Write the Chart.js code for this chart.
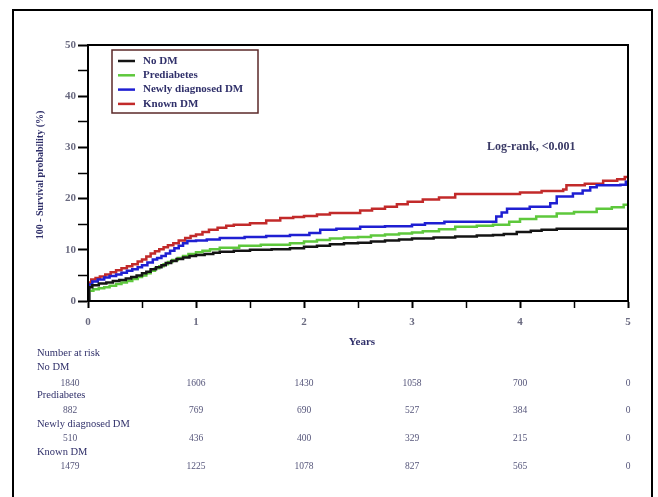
<!DOCTYPE html>
<html>
<head>
<meta charset="utf-8">
<title>100 - Survival probability by diabetes status</title>
<script src="https://cdn.jsdelivr.net/npm/chart.js@4.4.0/dist/chart.umd.min.js"></script>
<style>
  html, body { margin: 0; padding: 0; background: #fff; }
  #wrap { width: 658px; height: 497px; }
</style>
</head>
<body>
<div id="wrap"><canvas id="km" width="658" height="497"></canvas></div>
<script>
// Series names and colours
const seriesNames = ['No DM', 'Prediabetes', 'Newly diagnosed DM', 'Known DM'];
const seriesColors = ['#141414', '#5ec83c', '#1f1fd2', '#c22a2a'];

// Step curves: time in years and 100 - survival (%)
const noDmYears = [0, 0.01, 0.04, 0.1, 0.17, 0.23, 0.29, 0.35, 0.4, 0.45, 0.5, 0.54, 0.58, 0.63, 0.68, 0.72, 0.77, 0.82, 0.88, 0.94, 1.0, 1.08, 1.16, 1.22, 1.35, 1.5, 1.7, 1.87, 2.0, 2.12, 2.24, 2.37, 2.5, 2.62, 2.75, 2.88, 3.0, 3.2, 3.4, 3.6, 3.75, 3.85, 3.97, 4.1, 4.2, 4.34, 5.0];
const noDmValues = [0, 2.7, 3.1, 3.4, 3.6, 3.9, 4.1, 4.4, 4.7, 5.0, 5.4, 5.7, 6.2, 6.6, 7.0, 7.4, 7.8, 8.2, 8.5, 8.8, 9.0, 9.2, 9.4, 9.6, 9.8, 10.0, 10.1, 10.3, 10.6, 10.8, 11.1, 11.3, 11.4, 11.6, 11.8, 12.0, 12.2, 12.4, 12.6, 12.8, 12.9, 13.1, 13.5, 13.7, 13.9, 14.1, 14.1];

const prediabetesYears = [0, 0.01, 0.05, 0.1, 0.15, 0.2, 0.26, 0.31, 0.36, 0.41, 0.46, 0.5, 0.54, 0.58, 0.62, 0.66, 0.7, 0.74, 0.78, 0.83, 0.88, 0.93, 1.0, 1.06, 1.13, 1.22, 1.4, 1.6, 1.87, 2.0, 2.12, 2.24, 2.37, 2.5, 2.62, 2.75, 2.88, 3.0, 3.1, 3.25, 3.4, 3.6, 3.75, 3.9, 4.0, 4.15, 4.34, 4.5, 4.71, 4.85, 4.96, 5.0];
const prediabetesValues = [0, 2.0, 2.3, 2.5, 2.7, 3.0, 3.3, 3.6, 3.9, 4.3, 4.7, 5.0, 5.4, 5.9, 6.4, 6.8, 7.2, 7.6, 8.0, 8.4, 8.8, 9.2, 9.5, 9.8, 10.1, 10.4, 10.8, 11.0, 11.3, 11.6, 11.9, 12.2, 12.4, 12.5, 12.8, 13.0, 13.2, 13.4, 13.6, 14.0, 14.5, 14.7, 14.9, 15.5, 16.0, 16.5, 17.1, 17.4, 18.0, 18.3, 18.8, 19.0];

const newDmYears = [0, 0.01, 0.04, 0.09, 0.15, 0.2, 0.26, 0.31, 0.36, 0.41, 0.46, 0.5, 0.55, 0.6, 0.64, 0.68, 0.72, 0.76, 0.8, 0.84, 0.88, 0.92, 1.0, 1.1, 1.22, 1.45, 1.65, 1.87, 2.05, 2.15, 2.3, 2.52, 2.75, 3.0, 3.12, 3.3, 3.5, 3.72, 3.78, 3.83, 3.88, 4.09, 4.28, 4.34, 4.49, 4.58, 4.65, 4.71, 4.93, 4.98, 5.0];
const newDmValues = [0, 3.2, 3.8, 4.2, 4.6, 4.9, 5.2, 5.5, 5.9, 6.2, 6.6, 7.0, 7.5, 8.1, 8.4, 8.8, 9.3, 9.8, 10.3, 10.8, 11.3, 11.7, 11.8, 12.0, 12.3, 12.5, 12.7, 12.9, 13.3, 13.9, 14.1, 14.5, 14.6, 14.9, 15.2, 15.5, 15.5, 15.5, 16.5, 17.3, 18.0, 18.4, 19.1, 20.4, 21.0, 21.6, 22.2, 22.6, 22.7, 23.3, 23.6];

const knownDmYears = [0, 0.01, 0.03, 0.07, 0.11, 0.16, 0.21, 0.26, 0.31, 0.36, 0.41, 0.46, 0.5, 0.54, 0.58, 0.62, 0.66, 0.7, 0.74, 0.79, 0.84, 0.9, 0.95, 1.0, 1.06, 1.12, 1.2, 1.28, 1.35, 1.5, 1.65, 1.78, 1.9, 2.0, 2.12, 2.24, 2.4, 2.52, 2.63, 2.75, 2.86, 2.96, 3.1, 3.25, 3.4, 3.81, 4.0, 4.2, 4.4, 4.43, 4.6, 4.77, 4.9, 4.97, 5.0];
const knownDmValues = [0, 3.6, 4.2, 4.5, 4.8, 5.2, 5.6, 6.0, 6.4, 6.8, 7.2, 7.7, 8.1, 8.7, 9.3, 9.7, 10.1, 10.5, 10.9, 11.3, 11.8, 12.3, 12.7, 13.0, 13.5, 13.9, 14.3, 14.7, 14.9, 15.2, 15.7, 16.2, 16.4, 16.6, 16.9, 17.2, 17.2, 17.7, 18.0, 18.4, 18.9, 19.4, 19.8, 20.2, 20.9, 20.9, 21.2, 21.5, 21.8, 22.6, 22.9, 23.5, 23.8, 24.2, 24.2];

// Number at risk table
const riskYears = [0, 1, 2, 3, 4, 5];
const riskNoDm = [1840, 1606, 1430, 1058, 700, 0];
const riskPrediabetes = [882, 769, 690, 527, 384, 0];
const riskNewDm = [510, 436, 400, 329, 215, 0];
const riskKnownDm = [1479, 1225, 1078, 827, 565, 0];

// Axis settings
const xMin = 0, xMax = 5, xStep = 0.5;
const yMin = 0, yMax = 50, yStep = 5, yLabelEvery = 10;

const xTitle = 'Years';
const yTitle = '100 - Survival probability (%)';
const testNote = 'Log-rank, <0.001';
const riskTitle = 'Number at risk';

const SERIF = "'Liberation Serif', 'DejaVu Serif', serif";
const NAVY = '#30306a';

function toPoints(xs, ys) {
  return xs.map((x, i) => ({ x: x, y: ys[i] }));
}

const curveYears = [noDmYears, prediabetesYears, newDmYears, knownDmYears];
const curveValues = [noDmValues, prediabetesValues, newDmValues, knownDmValues];
const riskRows = [riskNoDm, riskPrediabetes, riskNewDm, riskKnownDm];

const datasets = seriesNames.map((name, i) => ({
  label: name,
  data: toPoints(curveYears[i], curveValues[i]),
  borderColor: seriesColors[i],
  backgroundColor: seriesColors[i],
  borderWidth: 2.5,
  pointRadius: 0,
  stepped: true,
  fill: false
}));

// Draws the outer frame, box, titles, legend, note and risk table
const figureExtras = {
  id: 'figureExtras',
  beforeDraw(chart) {
    const ctx = chart.ctx;
    ctx.save();
    ctx.fillStyle = '#fff';
    ctx.fillRect(0, 0, chart.width, chart.height);
    ctx.restore();
  },
  afterDraw(chart) {
    const ctx = chart.ctx;
    const area = chart.chartArea;
    const xs = chart.scales.x;
    ctx.save();

    // outer frame (bottom edge runs off the picture)
    ctx.strokeStyle = '#000';
    ctx.lineWidth = 2;
    ctx.strokeRect(13, 10, 639, 500);

    // plot box
    ctx.strokeRect(area.left, area.top, area.right - area.left, area.bottom - area.top);

    // y title
    ctx.fillStyle = NAVY;
    ctx.font = 'bold 10px ' + SERIF;
    ctx.textAlign = 'center';
    ctx.textBaseline = 'middle';
    ctx.save();
    ctx.translate(40, (area.top + area.bottom) / 2 + 2);
    ctx.rotate(-Math.PI / 2);
    ctx.fillText(yTitle, 0, 0);
    ctx.restore();

    // x title
    ctx.font = 'bold 11px ' + SERIF;
    ctx.fillText(xTitle, (area.left + area.right) / 2 + 4, 342);

    // legend
    const lx = area.left + 24, ly = area.top + 5;
    ctx.strokeStyle = '#5b2828';
    ctx.lineWidth = 1.5;
    ctx.strokeRect(lx, ly, 146, 63);
    ctx.textAlign = 'left';
    ctx.font = 'bold 11px ' + SERIF;
    seriesNames.forEach((name, i) => {
      const y = ly + 11 + i * 14.3;
      ctx.strokeStyle = seriesColors[i];
      ctx.lineWidth = 2.5;
      ctx.beginPath();
      ctx.moveTo(lx + 6, y);
      ctx.lineTo(lx + 23, y);
      ctx.stroke();
      ctx.fillStyle = NAVY;
      ctx.fillText(name, lx + 31, y);
    });

    // log-rank note
    ctx.font = 'bold 12px ' + SERIF;
    ctx.fillStyle = '#3a3a66';
    ctx.fillText(testNote, 487, 147);

    // number at risk
    ctx.font = '10.5px ' + SERIF;
    ctx.fillStyle = NAVY;
    ctx.fillText(riskTitle, 37, 353);
    riskRows.forEach((row, i) => {
      ctx.font = '10.5px ' + SERIF;
      ctx.fillStyle = NAVY;
      ctx.textAlign = 'left';
      ctx.fillText(seriesNames[i], 37, 367 + i * 28.4);
      ctx.font = '9.5px ' + SERIF;
      ctx.fillStyle = '#55557a';
      ctx.textAlign = 'center';
      row.forEach((n, j) => {
        const px = xs.getPixelForValue(riskYears[j]) - (j === 0 ? 18 : 0);
        ctx.fillText(String(n), px, 383 + i * 27.7);
      });
    });
    ctx.restore();
  }
};

const tickFont = { family: SERIF, size: 11, weight: 'bold' };

new Chart(document.getElementById('km'), {
  type: 'line',
  data: { datasets: datasets },
  options: {
    responsive: false,
    animation: false,
    devicePixelRatio: 1,
    layout: { padding: { top: 45, right: 30, left: 0, bottom: 0 } },
    plugins: { legend: { display: false }, tooltip: { enabled: false } },
    scales: {
      x: {
        type: 'linear',
        min: xMin,
        max: xMax,
        afterFit: s => { s.height = 196; },
        ticks: {
          stepSize: xStep,
          autoSkip: false,
          maxRotation: 0,
          padding: 8,
          color: '#6a6a80',
          font: tickFont,
          callback: v => Number.isInteger(v) ? v : ''
        },
        grid: {
          drawOnChartArea: false,
          tickLength: 7,
          tickColor: '#000',
          tickWidth: c => (c.tick && Number.isInteger(c.tick.value)) ? 2 : 1.5
        },
        border: { color: '#000', width: 2 }
      },
      y: {
        min: yMin,
        max: yMax,
        afterFit: s => { s.width = 88; },
        ticks: {
          stepSize: yStep,
          padding: 2,
          color: '#6a6a80',
          font: tickFont,
          callback: v => v % yLabelEvery === 0 ? v : ''
        },
        grid: {
          drawOnChartArea: false,
          tickLength: 10,
          tickColor: '#000',
          tickWidth: c => (c.tick && c.tick.value % yLabelEvery === 0) ? 2 : 1.5
        },
        border: { color: '#000', width: 2 }
      }
    }
  },
  plugins: [figureExtras]
});
</script>
</body>
</html>
